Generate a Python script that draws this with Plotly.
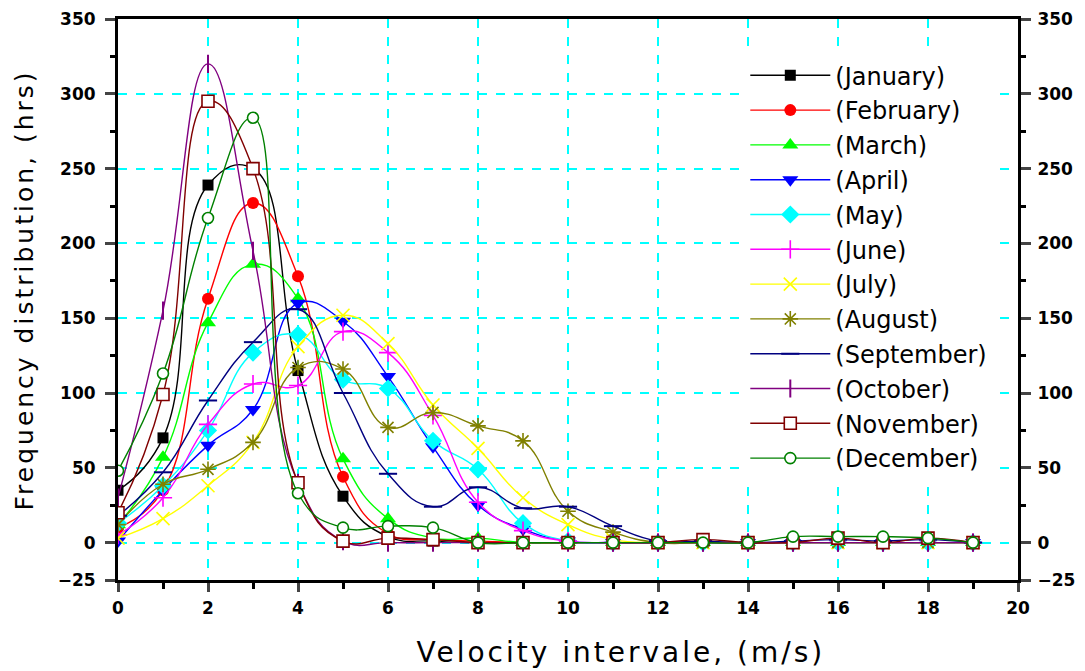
import plotly.graph_objects as go

velocity = list(range(20))

months = ["(January)", "(February)", "(March)", "(April)", "(May)", "(June)",
          "(July)", "(August)", "(September)", "(October)", "(November)", "(December)"]

january   = [35, 70, 239, 250, 115, 31, 4, 1, 0, 0, 0, 0, 0, 0, 0, 0, 0, 0, 0, 0]
february  = [10, 35, 163, 227, 178, 44, 6, 2, 1, 0, 0, 0, 0, 0, 0, 0, 0, 0, 0, 0]
march     = [12, 57, 147, 186, 163, 56, 16, 3, 3, 0, 0, 0, 0, 0, 0, 0, 0, 0, 0, 0]
april     = [1, 35, 65, 89, 160, 148, 111, 64, 25, 9, 1, 0, 0, 0, 0, 0, 0, 0, 0, 0]
may       = [13, 38, 75, 127, 139, 109, 103, 68, 49, 13, 1, 0, 0, 0, 0, 0, 0, 0, 0, 0]
june      = [5, 30, 79, 106, 105, 141, 127, 85, 27, 8, 1, 0, 0, 0, 0, 0, 0, 0, 0, 0]
july      = [3, 16, 38, 67, 131, 152, 133, 92, 63, 30, 12, 2, 0, 0, 0, 0, 0, 0, 0, 0]
august    = [12, 39, 49, 67, 117, 116, 77, 87, 78, 68, 21, 7, 0, 0, 0, 0, 0, 0, 0, 0]
september = [18, 47, 95, 134, 156, 100, 46, 24, 37, 23, 24, 11, 1, 1, 0, 1, 2, 1, 2, 0]
october   = [30, 155, 320, 195, 40, 1, 0, 0, 0, 0, 0, 0, 0, 0, 0, 0, 0, 0, 0, 0]
november  = [20, 99, 295, 250, 40, 1, 3, 2, 0, 0, 0, 0, 0, 2, 0, 0, 3, 0, 3, 0]
december  = [48, 113, 217, 284, 33, 10, 11, 10, 0, 0, 0, 0, 0, 0, 0, 4, 4, 4, 3, 0]

series = [january, february, march, april, may, june, july, august,
          september, october, november, december]

y_ticks = [-25, 0, 50, 100, 150, 200, 250, 300, 350]
x_ticks = [0, 2, 4, 6, 8, 10, 12, 14, 16, 18, 20]

x_title = "Velocity intervale, (m/s)"
y_title = "Frequency distribution, (hrs)"

colors = ["#000000", "#FF0000", "#00FF00", "#0000FF", "#00FFFF", "#FF00FF",
          "#FFFF00", "#808000", "#000080", "#800080", "#800000", "#008000"]

markers = [
    dict(symbol="square", size=11, color="#000000"),
    dict(symbol="circle", size=12, color="#FF0000"),
    dict(symbol="triangle-up", size=14, color="#00FF00"),
    dict(symbol="triangle-down", size=14, color="#0000FF"),
    dict(symbol="diamond", size=14, color="#00FFFF"),
    dict(symbol="cross-thin", size=13, color="#FF00FF", line=dict(width=1.6, color="#FF00FF")),
    dict(symbol="x-thin", size=13, color="#FFFF00", line=dict(width=1.6, color="#FFFF00")),
    dict(symbol="asterisk", size=13, color="#808000", line=dict(width=1.6, color="#808000")),
    dict(symbol="line-ew", size=13, color="#000080", line=dict(width=2, color="#000080")),
    dict(symbol="line-ns", size=13, color="#800080", line=dict(width=2, color="#800080")),
    dict(symbol="square", size=12, color="#FFFFFF", line=dict(width=1.6, color="#800000")),
    dict(symbol="circle", size=11, color="#FFFFFF", line=dict(width=1.6, color="#008000")),
]

FONT = "DejaVu Sans, Verdana, sans-serif"

fig = go.Figure()
for i, (name, vals) in enumerate(zip(months, series)):
    fig.add_trace(go.Scatter(
        x=velocity, y=vals, name=name, mode="lines+markers",
        line=dict(color=colors[i], width=1.4, shape="spline", smoothing=1.3),
        marker=markers[i], legendgroup=f"g{i}",
    ))

# invisible trace for right axis
fig.add_trace(go.Scatter(x=[0], y=[0], yaxis="y2", showlegend=False,
                         mode="markers", marker=dict(opacity=0), hoverinfo="skip"))

tickfont = dict(family=FONT, size=17, color="black", weight="bold")

fig.update_layout(
    width=1085, height=671,
    margin=dict(l=110, r=75, t=11, b=99),
    paper_bgcolor="white", plot_bgcolor="white",
    font=dict(family=FONT, color="black"),
    showlegend=True,
    legend=dict(x=0.697, y=0.939, xanchor="left", yanchor="top",
                bgcolor="white", font=dict(size=24, family=FONT),
                tracegroupgap=0.6, itemwidth=80),
    xaxis=dict(range=[0, 20], tickvals=x_ticks, ticks="outside", ticklen=9, tickwidth=3,
               showline=True, linewidth=3, linecolor="black", mirror=True,
               showgrid=True, gridcolor="#00FFFF", gridwidth=2, griddash="dash",
               zeroline=False, tickfont=tickfont, automargin=False, ticklabelstandoff=2,
               minor=dict(dtick=1, tick0=0, ticks="outside", ticklen=6, tickwidth=3, tickcolor="black", showgrid=False)),
    yaxis=dict(range=[-25, 350], tickvals=y_ticks, ticks="outside", ticklen=10, tickwidth=3,
               showline=True, linewidth=3, linecolor="black", mirror=False,
               showgrid=True, gridcolor="#00FFFF", gridwidth=2, griddash="dash",
               zeroline=False, tickfont=tickfont, automargin=False, ticklabelstandoff=6,
               minor=dict(dtick=25, tick0=0, ticks="outside", ticklen=5, tickwidth=3, tickcolor="black", showgrid=False)),
    yaxis2=dict(range=[-25, 350], tickvals=y_ticks, ticks="outside", ticklen=10, tickwidth=3,
                overlaying="y", side="right", showline=True, linewidth=3, linecolor="black",
                showgrid=False, zeroline=False, tickfont=tickfont, automargin=False, ticklabelstandoff=3,
                minor=dict(dtick=25, tick0=0, ticks="outside", ticklen=5, tickwidth=3, tickcolor="black")),
    annotations=[
        dict(text=x_title, xref="paper", yref="paper", x=(621 - 118) / 900, y=-(652 - 580) / 561,
             xanchor="center", yanchor="middle", showarrow=False, font=dict(size=28, family=FONT)),
        dict(text=y_title, xref="paper", yref="paper", x=(24 - 118) / 900, y=1 - (290 - 19) / 561,
             xanchor="center", yanchor="middle", showarrow=False, textangle=-90,
             font=dict(size=25, family=FONT)),
    ],
)

post = ("document.querySelectorAll('.annotation-text').forEach(function(e){"
        "e.style.letterSpacing='3px';});")
fig.write_html("out.html", post_script=post)
